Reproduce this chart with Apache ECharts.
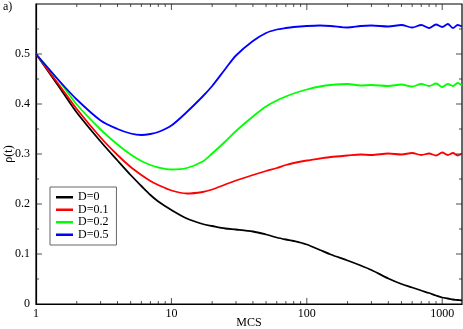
<!DOCTYPE html>
<html style="height: 100%">
<head>
    <meta charset="utf-8">
</head>
<body style="height: 100%; margin: 0; background-color: #fff;">
<div id="container" style="width: 463px; height: 329px;"></div>
<script type="text/javascript" src="https://cdn.jsdelivr.net/npm/echarts@6/dist/echarts.min.js"></script>
<script type="text/javascript">
var times = [1, 1.5, 2, 3, 4, 5, 6, 7, 8, 10, 13, 17, 20, 25, 30, 40, 50, 60, 70, 80,
    100, 125, 150, 200, 250, 300, 400, 500, 600, 700, 800, 900, 1000, 1100, 1200, 1300, 1400];

var rhoD0 = [0.5, 0.432, 0.383, 0.325, 0.287, 0.258, 0.236, 0.218, 0.205, 0.188, 0.171, 0.16, 0.156, 0.151, 0.149, 0.145, 0.139, 0.133, 0.129, 0.126,
    0.119, 0.108, 0.099, 0.087, 0.077, 0.068, 0.051, 0.040, 0.033, 0.027, 0.022, 0.017, 0.013, 0.011, 0.009, 0.008, 0.007];
var rhoD01 = [0.5, 0.436, 0.39, 0.333, 0.298, 0.274, 0.258, 0.246, 0.238, 0.227, 0.221, 0.224, 0.229, 0.239, 0.247, 0.258, 0.266, 0.272, 0.278, 0.282,
    0.287, 0.291, 0.294, 0.297, 0.299, 0.298, 0.301, 0.299, 0.302, 0.298, 0.301, 0.297, 0.303, 0.298, 0.302, 0.297, 0.301];
var rhoD02 = [0.5, 0.444, 0.399, 0.349, 0.319, 0.299, 0.286, 0.278, 0.273, 0.269, 0.272, 0.285, 0.301, 0.325, 0.346, 0.375, 0.395, 0.407, 0.415, 0.421,
    0.429, 0.435, 0.438, 0.44, 0.437, 0.438, 0.436, 0.439, 0.435, 0.44, 0.436, 0.441, 0.434, 0.44, 0.436, 0.442, 0.437];
var rhoD05 = [0.5, 0.445, 0.409, 0.367, 0.35, 0.341, 0.338, 0.34, 0.344, 0.357, 0.384, 0.415, 0.436, 0.47, 0.497, 0.526, 0.542, 0.549, 0.552, 0.554,
    0.556, 0.557, 0.556, 0.553, 0.556, 0.557, 0.555, 0.558, 0.553, 0.558, 0.552, 0.559, 0.554, 0.56, 0.552, 0.558, 0.555];

var seriesNames = ['D=0', 'D=0.1', 'D=0.2', 'D=0.5'];
var seriesColors = ['#000000', '#ff0000', '#00ff00', '#0000ff'];
var seriesValues = [rhoD0, rhoD01, rhoD02, rhoD05];

var xMax = 1400;
var yMax = 0.6;
var majorX = [10, 100, 1000];
var minorX = [2, 3, 4, 5, 6, 7, 8, 9, 20, 30, 40, 50, 60, 70, 80, 90, 200, 300, 400, 500, 600, 700, 800, 900];
var majorY = [0.1, 0.2, 0.3, 0.4, 0.5];
var minorY = [0.05, 0.15, 0.25, 0.35, 0.45, 0.55];

var font = 'Liberation Serif';
var chart = echarts.init(document.getElementById('container'));

// short tick marks sitting on the frame edges, placed through the axes
function tickMarks(points, w, h, dx, dy) {
    return {
        name: 'ticks', type: 'scatter', silent: true, z: 5,
        data: points,
        symbol: 'rect', symbolSize: [w, h], symbolOffset: [dx, dy],
        itemStyle: { color: '#222' },
        clip: false, animation: false
    };
}
function atY(values, y) { return values.map(function (v) { return [v, y]; }); }
function atX(values, x) { return values.map(function (v) { return [x, v]; }); }

var series = [];
for (var i = 0; i < seriesNames.length; i++) {
    var pts = [];
    for (var j = 0; j < times.length; j++) pts.push([times[j], seriesValues[i][j]]);
    series.push({
        name: seriesNames[i], type: 'line', data: pts, showSymbol: false,
        smooth: 0.3,
        lineStyle: { color: seriesColors[i], width: 1.8 },
        itemStyle: { color: seriesColors[i] },
        animation: false
    });
}
series.push(tickMarks(atY(majorX, 0), 1, 6, 0, -3));
series.push(tickMarks(atY(minorX, 0), 1, 3, 0, -1.5));
series.push(tickMarks(atY(majorX, yMax), 1, 6, 0, 3));
series.push(tickMarks(atY(minorX, yMax), 1, 3, 0, 1.5));
series.push(tickMarks(atX(majorY, 1), 6, 1, 3, 0));
series.push(tickMarks(atX(minorY, 1), 3, 1, 1.5, 0));
series.push(tickMarks(atX(majorY, xMax), 6, 1, -3, 0));
series.push(tickMarks(atX(minorY, xMax), 3, 1, -1.5, 0));

chart.setOption({
    animation: false,
    backgroundColor: '#fff',
    grid: {
        left: 36, right: 1, top: 4, bottom: 25,
        containLabel: false, outerBoundsMode: 'none',
        show: true, borderColor: '#000', borderWidth: 1.2
    },
    graphic: [{ type: 'text', left: 3, top: 1, style: { text: 'a)', font: '12px "Liberation Serif"', fill: '#000' } }],
    legend: {
        orient: 'vertical', left: 50, top: 187,
        data: seriesNames,
        icon: 'rect', itemWidth: 17, itemHeight: 2.5, itemGap: 0,
        padding: [4, 8, 4, 6],
        borderColor: '#666', borderWidth: 1, backgroundColor: '#fff',
        textStyle: { color: '#000', fontFamily: font, fontSize: 12, lineHeight: 12.5 }
    },
    xAxis: {
        type: 'log', logBase: 10, min: 1, max: xMax, position: 'bottom',
        axisLine: { show: true, onZero: false, lineStyle: { color: '#000', width: 1.2 } },
        axisTick: { show: false },
        minorTick: { show: false },
        axisLabel: {
            color: '#000', fontFamily: font, fontSize: 12, margin: 4,
            formatter: function (v) { return String(Math.round(v)); }
        },
        splitLine: { show: false },
        name: 'MCS', nameLocation: 'middle', nameGap: 13, nameMoveOverlap: false,
        nameTextStyle: { color: '#000', fontFamily: font, fontSize: 12 }
    },
    yAxis: {
        type: 'value', min: 0, max: yMax, interval: 0.1, position: 'left',
        axisLine: { show: true, onZero: false, lineStyle: { color: '#000', width: 1.2 } },
        axisTick: { show: false },
        minorTick: { show: false },
        axisLabel: {
            color: '#000', fontFamily: font, fontSize: 12, margin: 6,
            formatter: function (v) { return v > 0.55 ? '' : String(+v.toFixed(1)); }
        },
        splitLine: { show: false },
        name: 'ρ(t)', nameLocation: 'middle', nameGap: 21, nameMoveOverlap: false,
        nameTextStyle: { color: '#000', fontFamily: font, fontSize: 12 }
    },
    series: series
});
</script>
</body>
</html>
